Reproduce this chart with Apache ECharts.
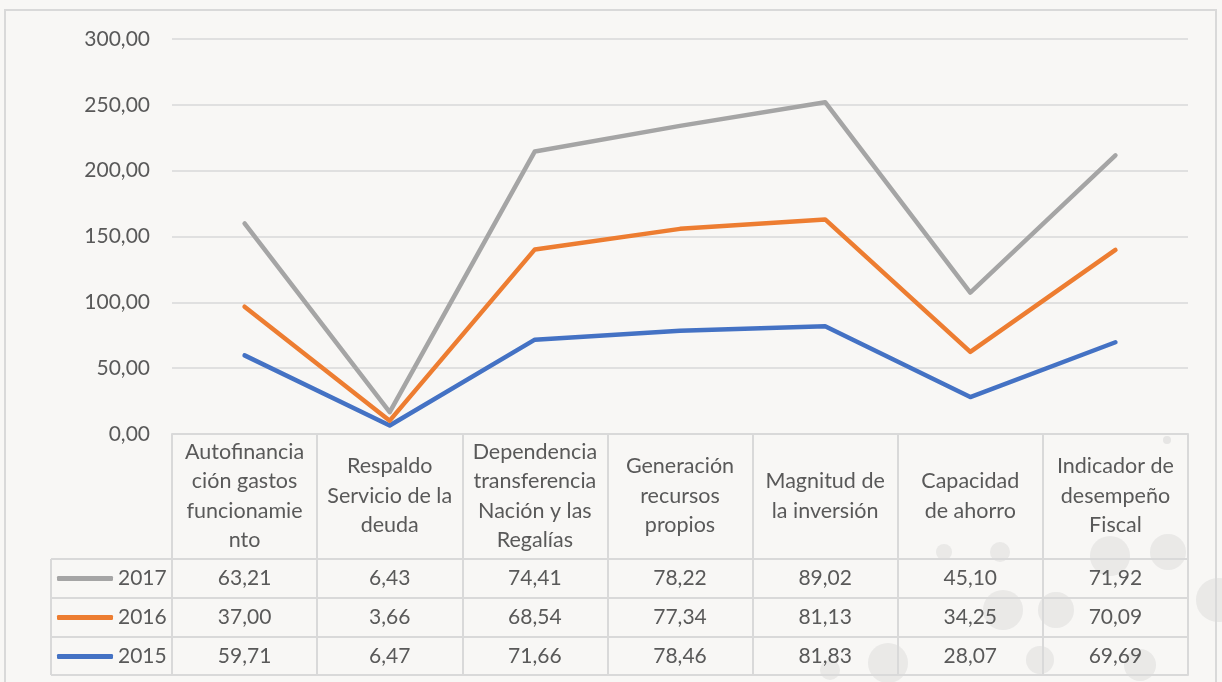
<!DOCTYPE html>
<html>
<head>
<meta charset="utf-8">
<script src="https://cdn.jsdelivr.net/npm/echarts@6/dist/echarts.min.js"></script>
<style>
  html, body { margin: 0; padding: 0; background: #f8f7f5; }
  #main { width: 1222px; height: 682px; }
</style>
</head>
<body>
<div id="main"></div>
<script>
// categorias (con los saltos de linea del original)
var categories = [
  "Autofinancia\nción gastos\nfuncionamie\nnto",
  "Respaldo\nServicio de la\ndeuda",
  "Dependencia\ntransferencia\nNación y las\nRegalías",
  "Generación\nrecursos\npropios",
  "Magnitud de\nla inversión",
  "Capacidad\nde ahorro",
  "Indicador de\ndesempeño\nFiscal"
];
var years = ["2017", "2016", "2015"];
var v2017 = [63.21, 6.43, 74.41, 78.22, 89.02, 45.10, 71.92];
var v2016 = [37.00, 3.66, 68.54, 77.34, 81.13, 34.25, 70.09];
var v2015 = [59.71, 6.47, 71.66, 78.46, 81.83, 28.07, 69.69];
var yTicks = [0, 50, 100, 150, 200, 250, 300];

var textColor = "#595959";
var gridColor = "#d9d9d9";
var fontFam = "Lato, 'Open Sans', sans-serif";

function fmt(v) {
  return v.toFixed(2).replace(".", ",");
}

// eje de una fila de la tabla de datos
function rowAxis(offset, vals) {
  return {
    type: "category",
    gridIndex: 0,
    position: "bottom",
    offset: offset,
    data: categories,
    axisLine: { show: true, lineStyle: { color: gridColor, width: 2 } },
    axisTick: { show: false },
    axisLabel: {
      show: !!vals,
      interval: 0,
      margin: 19,
      verticalAlign: "middle",
      fontSize: 21,
      fontFamily: fontFam,
      color: textColor,
      formatter: function (v, i) { return vals ? fmt(vals[i]) : ""; }
    }
  };
}

var myChart = echarts.init(document.getElementById("main"));
myChart.setOption({
  backgroundColor: "#f8f7f5",
  animation: false,
  grid: { left: 172, right: 34, top: 39, bottom: 248 },
  legend: {
    orient: "vertical",
    left: 57,
    top: 559,
    padding: 0,
    itemGap: 0,
    icon: "roundRect",
    itemWidth: 56,
    itemHeight: 5,
    data: years,
    textStyle: { fontSize: 21, lineHeight: 39, color: textColor, fontFamily: fontFam }
  },
  xAxis: [
    {
      type: "category",
      data: categories,
      axisLine: { show: true, lineStyle: { color: gridColor, width: 2 } },
      axisTick: { show: true, interval: 0, length: 241, lineStyle: { color: gridColor, width: 2 } },
      axisLabel: {
        interval: 0,
        margin: 62,
        verticalAlign: "middle",
        fontSize: 21.5,
        lineHeight: 29.5,
        fontFamily: fontFam,
        color: textColor
      }
    },
    rowAxis(125, v2017),
    rowAxis(164, v2016),
    rowAxis(203, v2015),
    rowAxis(241, null)
  ],
  yAxis: {
    type: "value",
    min: yTicks[0],
    max: yTicks[yTicks.length - 1],
    interval: 50,
    axisLine: { show: false },
    axisTick: { show: false },
    axisLabel: {
      margin: 22,
      fontSize: 21,
      fontFamily: fontFam,
      color: textColor,
      formatter: function (v) { return fmt(v); }
    },
    splitLine: { lineStyle: { color: gridColor, width: 1.5 } }
  },
  series: [
    {
      name: "2015", type: "line", stack: "total", data: v2015, symbol: "none",
      color: "#4472C4",
      lineStyle: { width: 4.5, cap: "round", join: "round" }
    },
    {
      name: "2016", type: "line", stack: "total", data: v2016, symbol: "none",
      color: "#ED7D31",
      lineStyle: { width: 4.5, cap: "round", join: "round" }
    },
    {
      name: "2017", type: "line", stack: "total", data: v2017, symbol: "none",
      color: "#A5A5A5",
      lineStyle: { width: 4.5, cap: "round", join: "round" }
    }
  ],
  graphic: [
    // marco exterior
    { type: "rect", z: -10, shape: { x: 5, y: 10, width: 1211, height: 700 },
      style: { fill: "none", stroke: "#d9d9d9", lineWidth: 2 } },
    // burbujas decorativas
    { type: "circle", z: -20, shape: { cx: 1110, cy: 556, r: 20 }, style: { fill: "rgba(190,190,190,0.25)" } },
    { type: "circle", z: -20, shape: { cx: 1168, cy: 552, r: 18 }, style: { fill: "rgba(190,190,190,0.25)" } },
    { type: "circle", z: -20, shape: { cx: 1056, cy: 610, r: 18 }, style: { fill: "rgba(190,190,190,0.25)" } },
    { type: "circle", z: -20, shape: { cx: 1003, cy: 610, r: 20 }, style: { fill: "rgba(190,190,190,0.25)" } },
    { type: "circle", z: -20, shape: { cx: 1218, cy: 600, r: 22 }, style: { fill: "rgba(190,190,190,0.25)" } },
    { type: "circle", z: -20, shape: { cx: 888, cy: 663, r: 20 }, style: { fill: "rgba(190,190,190,0.25)" } },
    { type: "circle", z: -20, shape: { cx: 944, cy: 552, r: 8 }, style: { fill: "rgba(190,190,190,0.25)" } },
    { type: "circle", z: -20, shape: { cx: 1000, cy: 552, r: 10 }, style: { fill: "rgba(190,190,190,0.25)" } },
    { type: "circle", z: -20, shape: { cx: 1040, cy: 660, r: 14 }, style: { fill: "rgba(190,190,190,0.25)" } },
    { type: "circle", z: -20, shape: { cx: 1140, cy: 665, r: 16 }, style: { fill: "rgba(190,190,190,0.25)" } },
    { type: "circle", z: -20, shape: { cx: 830, cy: 670, r: 10 }, style: { fill: "rgba(190,190,190,0.25)" } },
    { type: "circle", z: -20, shape: { cx: 1167, cy: 440, r: 4 }, style: { fill: "rgba(190,190,190,0.3)" } },
    // lineas de la columna de leyenda
    { type: "line", shape: { x1: 51, y1: 559, x2: 172, y2: 559 }, style: { stroke: gridColor, lineWidth: 2 } },
    { type: "line", shape: { x1: 51, y1: 598, x2: 172, y2: 598 }, style: { stroke: gridColor, lineWidth: 2 } },
    { type: "line", shape: { x1: 51, y1: 637, x2: 172, y2: 637 }, style: { stroke: gridColor, lineWidth: 2 } },
    { type: "line", shape: { x1: 51, y1: 675, x2: 172, y2: 675 }, style: { stroke: gridColor, lineWidth: 2 } },
    { type: "line", shape: { x1: 51, y1: 559, x2: 51, y2: 675 }, style: { stroke: gridColor, lineWidth: 2 } }
  ]
});
</script>
</body>
</html>
